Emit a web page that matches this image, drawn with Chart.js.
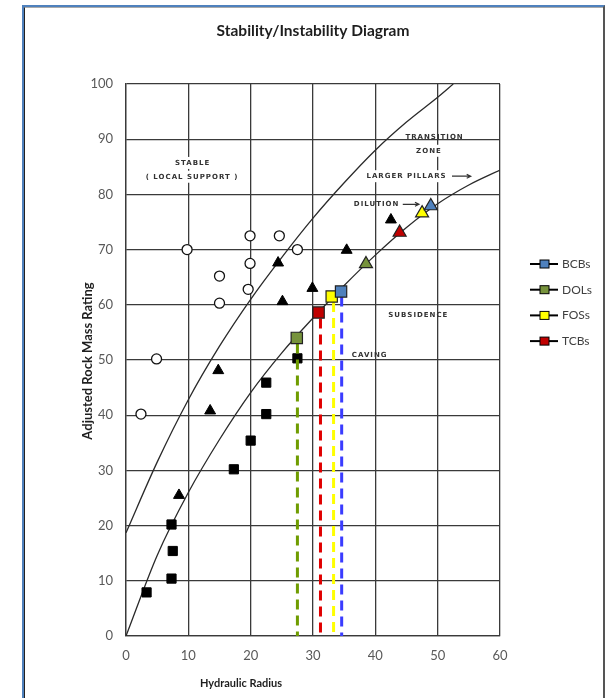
<!DOCTYPE html>
<html>
<head>
<meta charset="utf-8">
<script src="https://cdn.jsdelivr.net/npm/chart.js@4.4.1/dist/chart.umd.min.js"></script>
<style>
    html, body { margin: 0; padding: 0; background: #fff; }
    #wrap { position: relative; width: 606px; height: 698px; overflow: hidden; }
    #frame {
        position: absolute; left: 22px; top: 5px; width: 579px; height: 720px;
        border-top: 2px solid #4f81bd; border-left: 2px solid #4f81bd; border-right: 2px solid #555;
    }
    #frame:before {
        content: ''; position: absolute; left: 0; top: 0; right: 0; bottom: 0;
        border-left: 1px solid #222; border-top: 1px solid #aaa;
    }
    canvas { position: absolute; left: 0; top: 0; }
</style>
</head>
<body>
<div id="wrap">
    <div id="frame"></div>
    <canvas id="chartStability" width="606" height="698"></canvas>
</div>
<script>
// --- data ---
const chartTitle = 'Stability/Instability Diagram';
const xTitle = 'Hydraulic Radius';
const yTitle = 'Adjusted Rock Mass Rating';

const upperCurve = [[0, 18.7], [5, 31.5], [10, 42.8], [15, 52.5], [20, 61], [25, 68.6], [30, 75.7],
                    [35, 82.1], [40, 88], [45, 93.1], [50, 97.6], [52.5, 100]];
const lowerCurve = [[0, 0], [5, 14.6], [10, 26], [15, 35.6], [20, 44.1], [25, 51.3], [30, 57.6],
                    [35, 63.5], [40, 69], [45, 74], [50, 78.3], [55, 81.7], [60, 84.4]];

const stableCircles = [[9.8, 70], [19.9, 72.5], [24.6, 72.5], [27.5, 70], [15, 65.2], [19.9, 67.5],
                       [19.6, 62.8], [15, 60.3], [4.9, 50.2], [2.4, 40.2]];
const blackTriangles = [[8.5, 25.5], [13.5, 40.8], [14.8, 48.1], [24.4, 67.6], [25.1, 60.6], [29.9, 63],
                        [35.4, 69.9], [42.5, 75.4]];
const blackSquares = [[3.3, 7.9], [7.3, 10.4], [7.5, 15.4], [7.3, 20.2], [17.3, 30.2], [20, 35.4],
                      [22.5, 40.2], [22.5, 45.9], [27.5, 50.3]];

const seriesNames = ['BCBs', 'DOLs', 'FOSs', 'TCBs'];
const seriesSquares = [[34.5, 62.4], [27.4, 54.0], [33.0, 61.5], [30.9, 58.6]];
const seriesTriangles = [[48.9, 77.9], [38.5, 67.4], [47.5, 76.6], [43.9, 73.1]];
const seriesDropX = [34.6, 27.5, 33.3, 31.2];
const seriesDropTop = [61.5, 53, 60.5, 57.5];
const seriesColors = ['#4f81bd', '#77933c', '#ffff00', '#c00000'];
const dropColors = ['#3a3cff', '#6f9c00', '#ffff00', '#e00000'];

// notes printed on the original graph (text, x, y, blank the grid behind it)
const notes = [
    ['STABLE', 10.7, 85.7, true], ['( LOCAL SUPPORT )', 10.6, 83.2, true],
    ['TRANSITION', 49.5, 90.4], ['ZONE', 48.6, 87.9, true],
    ['LARGER PILLARS', 45.0, 83.3, true], ['DILUTION', 40.2, 78.2],
    ['SUBSIDENCE', 46.9, 58.2], ['CAVING', 39.1, 50.8]
];
const arrows = [[52.3, 83.3, 55.3], [44.4, 78.2, 47.0]];

function pts(list) {
    return list.map(p => ({ x: p[0], y: p[1] }));
}

const datasets = [];

// curves
[upperCurve, lowerCurve].forEach(c => {
    datasets.push({
        data: pts(c), showLine: true, borderColor: '#2a2a2a', borderWidth: 1.3,
        pointRadius: 0, cubicInterpolationMode: 'monotone', order: 3
    });
});

// black markers
datasets.push({ data: pts(stableCircles), pointStyle: 'circle', pointRadius: 5, backgroundColor: '#fff',
                borderColor: '#111', borderWidth: 1.3, order: 2 });
datasets.push({ data: pts(blackTriangles), pointStyle: 'triangle', pointRadius: 6.3, backgroundColor: '#000',
                borderColor: '#000', borderWidth: 1, order: 2 });
datasets.push({ data: pts(blackSquares), pointStyle: 'rect', pointRadius: 6.5, backgroundColor: '#000',
                borderColor: '#000', borderWidth: 1, order: 2 });

// coloured series
seriesNames.forEach((name, i) => {
    datasets.push({
        data: [{ x: seriesDropX[i], y: seriesDropTop[i] }, { x: seriesDropX[i], y: 0 }],
        showLine: true, borderColor: dropColors[i], borderWidth: 3, borderDash: [10, 6],
        pointRadius: 0, order: 1
    });
    datasets.push({
        legendName: name,
        data: pts([seriesSquares[i]]), pointStyle: 'rect', pointRadius: 8,
        backgroundColor: seriesColors[i], borderColor: '#222', borderWidth: 1.2, order: 0
    });
    datasets.push({
        data: pts([seriesTriangles[i]]), pointStyle: 'triangle', pointRadius: 7.5,
        backgroundColor: seriesColors[i], borderColor: '#222', borderWidth: 1.2, order: 0
    });
});

const notesPlugin = {
    id: 'notes',
    afterDatasetsDraw(chart) {
        const { ctx, scales: { x, y } } = chart;
        ctx.save();
        ctx.font = 'bold 7px "DejaVu Sans"';
        ctx.letterSpacing = '1px';
        ctx.textAlign = 'center';
        ctx.textBaseline = 'middle';
        notes.forEach(n => {
            const px = x.getPixelForValue(n[1]);
            const py = y.getPixelForValue(n[2]);
            const w = ctx.measureText(n[0]).width;
            if (n[3]) {
                ctx.fillStyle = '#fff';
                ctx.fillRect(px - w / 2 - 2, py - 6, w + 4, 12);
            }
            ctx.fillStyle = '#333';
            ctx.fillText(n[0], px, py);
        });
        ctx.strokeStyle = '#333';
        ctx.lineWidth = 1.2;
        arrows.forEach(a => {
            const x0 = x.getPixelForValue(a[0]);
            const x1 = x.getPixelForValue(a[2]);
            const py = y.getPixelForValue(a[1]);
            ctx.beginPath();
            ctx.moveTo(x0, py);
            ctx.lineTo(x1, py);
            ctx.moveTo(x1 - 4, py - 2);
            ctx.lineTo(x1, py);
            ctx.lineTo(x1 - 4, py + 2);
            ctx.stroke();
        });
        ctx.restore();
    }
};

// title, axis titles and the side legend
const textPlugin = {
    id: 'texts',
    afterDraw(chart) {
        const { ctx, chartArea } = chart;
        ctx.save();
        ctx.fillStyle = '#1e1e1e';
        ctx.textAlign = 'center';
        ctx.textBaseline = 'middle';
        ctx.font = 'bold 15.5px Lato';
        ctx.fillText(chartTitle, (chartArea.left + chartArea.right) / 2, 31);
        ctx.font = 'bold 11px Lato';
        ctx.fillText(xTitle, 241, 683);
        ctx.save();
        ctx.translate(88, 361);
        ctx.rotate(-Math.PI / 2);
        ctx.font = 'bold 13px Lato';
        ctx.fillText(yTitle, 0, 0);
        ctx.restore();

        ctx.font = '12px Lato';
        ctx.textAlign = 'left';
        let rowY = 264;
        chart.data.datasets.filter(d => d.legendName).forEach(d => {
            ctx.strokeStyle = '#000';
            ctx.lineWidth = 2;
            ctx.beginPath();
            ctx.moveTo(530, rowY);
            ctx.lineTo(558, rowY);
            ctx.stroke();
            ctx.fillStyle = d.backgroundColor;
            ctx.fillRect(540, rowY - 4, 9, 8);
            ctx.lineWidth = 1;
            ctx.strokeRect(540, rowY - 4, 9, 8);
            ctx.fillStyle = '#404040';
            ctx.fillText(d.legendName, 562, rowY);
            rowY += 25.7;
        });
        ctx.restore();
    }
};

new Chart(document.getElementById('chartStability'), {
    type: 'scatter',
    data: { datasets: datasets },
    options: {
        responsive: false,
        animation: false,
        layout: { padding: { left: 0, right: 106, top: 84, bottom: 0 } },
        plugins: {
            legend: { display: false },
            tooltip: { enabled: false },
            title: { display: false }
        },
        scales: {
            x: {
                min: 0, max: 60,
                ticks: { stepSize: 10, color: '#595959', font: { family: 'Lato', size: 13 }, padding: 12 },
                grid: { color: '#3a3a3a', lineWidth: 1.3, drawTicks: false },
                border: { color: '#3a3a3a', width: 1.3 },
                afterFit(scale) { scale.height = 62; }
            },
            y: {
                min: 0, max: 100,
                ticks: { stepSize: 10, color: '#595959', font: { family: 'Lato', size: 13 }, padding: 13 },
                grid: { color: '#3a3a3a', lineWidth: 1.3, drawTicks: false },
                border: { color: '#3a3a3a', width: 1.3 },
                afterFit(scale) { scale.width = 126; }
            }
        }
    },
    plugins: [notesPlugin, textPlugin]
});
</script>
</body>
</html>
